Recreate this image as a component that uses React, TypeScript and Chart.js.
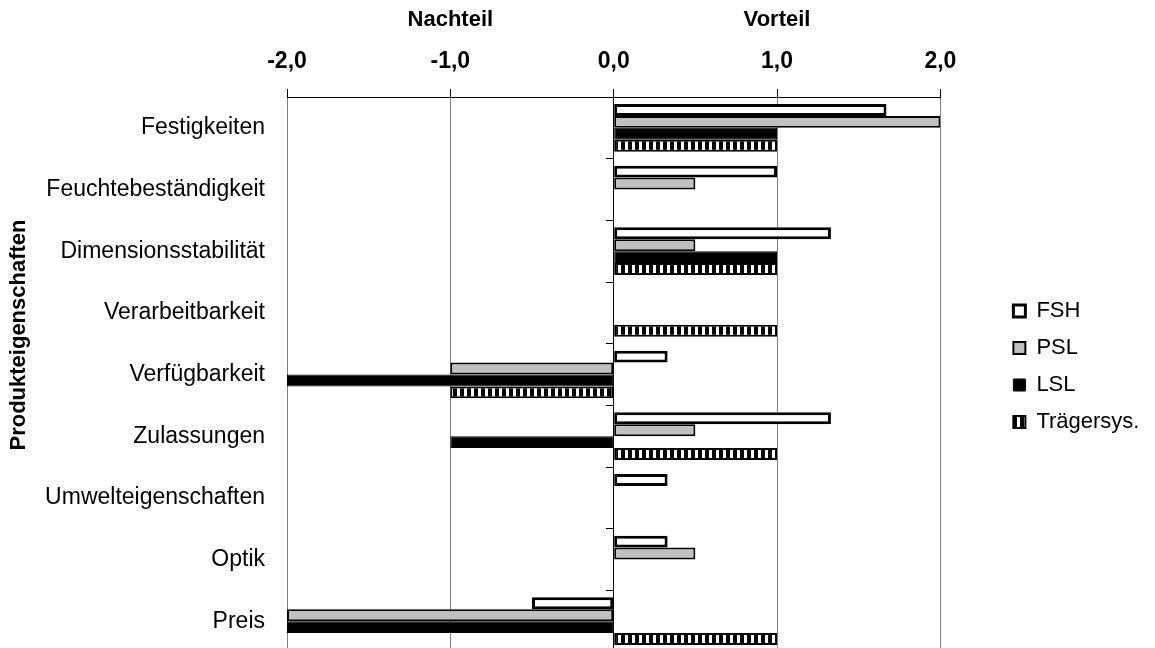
import { useEffect, useRef } from 'react';
import { Chart, registerables } from 'chart.js';

Chart.register(...registerables);

const categories = [
  'Festigkeiten',
  'Feuchtebeständigkeit',
  'Dimensionsstabilität',
  'Verarbeitbarkeit',
  'Verfügbarkeit',
  'Zulassungen',
  'Umwelteigenschaften',
  'Optik',
  'Preis',
];

const fshValues = [1.67, 1.0, 1.33, null, 0.33, 1.33, 0.33, 0.33, -0.5];
const pslValues = [2.0, 0.5, 0.5, null, -1.0, 0.5, null, 0.5, -2.0];
const lslValues = [1.0, null, 1.0, null, -2.0, -1.0, null, null, -2.0];
const traegerValues = [1.0, null, 1.0, 1.0, -1.0, 1.0, null, null, 1.0];

const seriesNames = ['FSH', 'PSL', 'LSL', 'Trägersys.'];

const xTickValues = [-2, -1, 0, 1, 2];
const xTickLabels = ['-2,0', '-1,0', '0,0', '1,0', '2,0'];

const sideLabelValues = [-1, 1];
const sideLabels = ['Nachteil', 'Vorteil'];

const yAxisTitle = 'Produkteigenschaften';

const FONT = "'Liberation Sans', Arial, Helvetica, sans-serif";

export default function App() {
  const ref = useRef<HTMLCanvasElement>(null);

  useEffect(() => {
    const canvas = ref.current!;
    const ctx = canvas.getContext('2d')!;

    const pc = document.createElement('canvas');
    pc.width = 7;
    pc.height = 4;
    const p = pc.getContext('2d')!;
    p.fillStyle = '#000';
    p.fillRect(0, 0, 7, 4);
    p.fillStyle = '#fff';
    p.fillRect(2, 0, 3, 4);
    const hatch = ctx.createPattern(pc, 'repeat')!;

    const yTitlePlugin = {
      id: 'yTitlePlugin',
      afterDraw(chart: any) {
        const c = chart.ctx;
        c.save();
        c.translate(19, 335);
        c.rotate(-Math.PI / 2);
        c.font = `bold 22px ${FONT}`;
        c.fillStyle = '#000';
        c.textAlign = 'center';
        c.textBaseline = 'middle';
        c.fillText(yAxisTitle, 0, 0);
        c.restore();
      },
    };

    Chart.defaults.font.family = FONT;

    const chart = new Chart(canvas, {
      type: 'bar',
      data: {
        labels: categories,
        datasets: [
          {
            label: seriesNames[0],
            data: fshValues,
            backgroundColor: '#ffffff',
            borderColor: '#000000',
            borderWidth: 3,
            borderSkipped: false,
          },
          {
            label: seriesNames[1],
            data: pslValues,
            backgroundColor: '#c0c0c0',
            borderColor: '#000000',
            borderWidth: 2,
            borderSkipped: false,
          },
          {
            label: seriesNames[2],
            data: lslValues,
            backgroundColor: '#000000',
            borderColor: '#000000',
            borderWidth: 1,
            borderSkipped: false,
          },
          {
            label: seriesNames[3],
            data: traegerValues,
            backgroundColor: hatch,
            borderColor: '#000000',
            borderWidth: 2,
            borderSkipped: false,
          },
        ] as any,
      },
      options: {
        indexAxis: 'y',
        animation: false,
        responsive: false,
        maintainAspectRatio: false,
        datasets: {
          bar: {
            categoryPercentage: 0.773,
            barPercentage: 1,
          },
        },
        layout: { padding: { left: 0, right: 14, top: 0, bottom: 0 } },
        plugins: {
          legend: {
            position: 'right',
            fullSize: false,
            align: 'start',
            title: {
              display: true,
              text: '',
              font: { size: 10 },
              padding: { top: 176, bottom: 0 },
            },
            labels: {
              boxWidth: 12,
              boxHeight: 12,
              padding: 15,
              color: '#000',
              font: { family: FONT, size: 22 },
            },
          },
          tooltip: { enabled: false },
          title: { display: false },
        },
        scales: {
          x: {
            type: 'linear',
            position: 'top',
            min: -2,
            max: 2,
            weight: 0,
            afterBuildTicks: (s: any) => {
              s.ticks = xTickValues.map((v) => ({ value: v }));
            },
            afterFit: (s: any) => {
              s.height = 50;
            },
            ticks: {
              autoSkip: false,
              maxRotation: 0,
              padding: 14,
              color: '#000',
              font: { family: FONT, size: 23, weight: 'bold' },
              callback: (v: any) => xTickLabels[xTickValues.indexOf(Number(v))],
            },
            grid: {
              color: '#808080',
              tickColor: '#000',
              tickLength: 8,
              lineWidth: 1,
            },
            border: { display: true, color: '#000', width: 1 },
          },
          x2: {
            type: 'linear',
            position: 'top',
            min: -2,
            max: 2,
            weight: 1,
            afterBuildTicks: (s: any) => {
              s.ticks = sideLabelValues.map((v) => ({ value: v }));
            },
            afterFit: (s: any) => {
              s.height = 47;
            },
            ticks: {
              autoSkip: false,
              maxRotation: 0,
              padding: 14,
              color: '#000',
              font: { family: FONT, size: 22, weight: 'bold' },
              callback: (v: any) => sideLabels[sideLabelValues.indexOf(Number(v))],
            },
            grid: { display: false, drawTicks: false },
            border: { display: false },
          },
          y: {
            type: 'category',
            position: 'left',
            afterFit: (s: any) => {
              s.width = 287;
              s.paddingTop = 0;
              s.paddingBottom = 0;
            },
            ticks: {
              autoSkip: false,
              padding: 22,
              color: '#000',
              font: { family: FONT, size: 23 },
            },
            grid: { display: false, drawTicks: false },
            border: { display: false },
          },
          y2: {
            type: 'category',
            labels: categories,
            position: { x: 0 },
            offset: true,
            afterFit: (s: any) => {
              s.paddingTop = 0;
              s.paddingBottom = 0;
            },
            ticks: { display: false },
            grid: {
              drawOnChartArea: false,
              offset: true,
              tickLength: 7,
              color: '#000',
            },
            border: { display: true, color: '#000', width: 1 },
          },
          yR: {
            type: 'category',
            labels: categories,
            position: 'right',
            afterFit: (s: any) => {
              s.width = 58;
              s.paddingTop = 0;
              s.paddingBottom = 0;
            },
            ticks: { display: false },
            grid: { display: false, drawTicks: false },
            border: { display: false },
          },
        } as any,
      },
      plugins: [yTitlePlugin],
    });

    return () => chart.destroy();
  }, []);

  return (
    <div
      style={{
        position: 'fixed',
        left: 0,
        top: 0,
        width: 1155,
        height: 648,
        overflow: 'hidden',
        background: '#fff',
      }}
    >
      <canvas ref={ref} width={1155} height={652} style={{ display: 'block' }} />
    </div>
  );
}
